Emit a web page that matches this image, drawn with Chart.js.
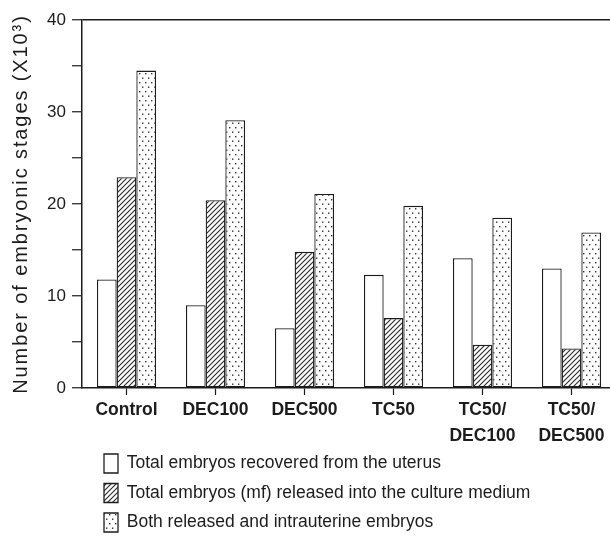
<!DOCTYPE html>
<html>
<head>
<meta charset="utf-8">
<script src="https://cdn.jsdelivr.net/npm/chart.js@4/dist/chart.umd.min.js"></script>
<style>
  html, body { margin: 0; padding: 0; background: #fff; overflow: hidden; }
  #wrap { width: 620px; height: 538px; }
</style>
</head>
<body>
<div id="wrap"><canvas id="c" width="620" height="538"></canvas></div>
<script>
// Treatment groups (x axis)
const groups = ['Control', 'DEC100', 'DEC500', 'TC50', ['TC50/', 'DEC100'], ['TC50/', 'DEC500']];

// Embryo counts, in thousands
const recovered = [11.8, 9.0, 6.5, 12.3, 14.1, 13.0];
const released  = [22.9, 20.4, 14.8, 7.6, 4.7, 4.3];
const combined  = [34.5, 29.1, 21.1, 19.8, 18.5, 16.9];

const seriesNames = [
  'Total embryos recovered from the uterus',
  'Total embryos (mf) released into the culture medium',
  'Both released and intrauterine embryos'
];

// Y axis range and tick spacing (labels every 10, minor marks every 5)
const yMax = 40;
const yStep = 5;
const yLabelEvery = 10;

const INK = '#1c1c1c';
const FONT = 'Liberation Sans, Arial, Helvetica, sans-serif';

const canvas = document.getElementById('c');
const ctx = canvas.getContext('2d');

// Diagonal hatch fill
function makeHatch() {
  const t = document.createElement('canvas');
  t.width = 5; t.height = 5;
  const g = t.getContext('2d');
  g.fillStyle = '#fff';
  g.fillRect(0, 0, 5, 5);
  g.strokeStyle = '#2a2a2a';
  g.lineWidth = 1.1;
  g.beginPath();
  g.moveTo(-1, 6); g.lineTo(6, -1);
  g.moveTo(-1, 1); g.lineTo(1, -1);
  g.moveTo(4, 6); g.lineTo(6, 4);
  g.stroke();
  return ctx.createPattern(t, 'repeat');
}

// Sparse stipple fill
function makeDots() {
  const t = document.createElement('canvas');
  t.width = 6; t.height = 9;
  const g = t.getContext('2d');
  g.fillStyle = '#fff';
  g.fillRect(0, 0, 6, 9);
  g.fillStyle = '#333';
  g.fillRect(1, 1, 1.4, 1.4);
  g.fillRect(4, 5.5, 1.4, 1.4);
  return ctx.createPattern(t, 'repeat');
}

// Places the legend block under the x-axis labels
const legendPlacement = {
  id: 'legendPlacement',
  afterLayout(chart) {
    const lg = chart.legend;
    const area = chart.chartArea;
    const pad = lg.options.labels.padding;
    lg.left = area.left + 22 - pad;
    lg.top = area.bottom + 66 - pad;
    lg.right = lg.left + lg.width;
    lg.bottom = lg.top + lg.height;
  }
};

// Wider tracking for the rotated y-axis title
const spacedTitle = {
  id: 'spacedTitle',
  beforeDraw(chart) {
    const s = chart.scales.y;
    if (s._spacedTitle) return;
    const orig = s.drawTitle;
    s.drawTitle = function (...args) {
      const c = this.ctx;
      c.save();
      c.letterSpacing = '1.9px';
      orig.apply(this, args);
      c.restore();
    };
    s._spacedTitle = true;
  }
};

const barStyle = {
  borderColor: INK,
  borderWidth: 1.3,
  borderSkipped: false,
  categoryPercentage: 0.663,
  barPercentage: 1.0
};

new Chart(ctx, {
  type: 'bar',
  data: {
    labels: groups,
    datasets: [
      Object.assign({ label: seriesNames[0], data: recovered, backgroundColor: '#ffffff' }, barStyle),
      Object.assign({ label: seriesNames[1], data: released, backgroundColor: makeHatch() }, barStyle),
      Object.assign({ label: seriesNames[2], data: combined, backgroundColor: makeDots() }, barStyle)
    ]
  },
  options: {
    responsive: false,
    animation: false,
    devicePixelRatio: 1,
    layout: { padding: { top: 20, right: 4, left: 0, bottom: 0 } },
    plugins: {
      tooltip: { enabled: false },
      legend: {
        position: 'chartArea',
        align: 'start',
        labels: {
          boxWidth: 14,
          boxHeight: 19,
          padding: 10.5,
          color: INK,
          font: { family: FONT, size: 17.5 }
        }
      }
    },
    scales: {
      x: {
        afterFit(s) { s.height = 150; },
        border: { display: true, color: INK, width: 1.5 },
        grid: {
          display: true,
          drawOnChartArea: false,
          offset: false,
          tickLength: 7,
          tickColor: INK,
          tickWidth: 1.2
        },
        ticks: {
          color: INK,
          padding: 2,
          maxRotation: 0,
          autoSkip: false,
          font: { family: FONT, size: 17.5, weight: 'bold', lineHeight: 1.5 }
        }
      },
      y: {
        min: 0,
        max: yMax,
        afterFit(s) { s.width = 82; },
        border: { display: true, color: INK, width: 1.5 },
        grid: {
          drawOnChartArea: true,
          color: (c) => (c.tick && c.tick.value === yMax ? INK : 'rgba(0,0,0,0)'),
          lineWidth: 1.5,
          tickLength: 10,
          tickColor: INK,
          tickWidth: 1.2
        },
        ticks: {
          stepSize: yStep,
          padding: 6,
          color: INK,
          font: { family: FONT, size: 17 },
          callback: (v) => (v % yLabelEvery === 0 ? v : '')
        },
        title: {
          display: true,
          text: 'Number of embryonic stages (X10³)',
          color: INK,
          font: { family: FONT, size: 20 },
          padding: { top: 9, bottom: 0 }
        }
      }
    }
  },
  plugins: [legendPlacement, spacedTitle]
});
</script>
</body>
</html>
